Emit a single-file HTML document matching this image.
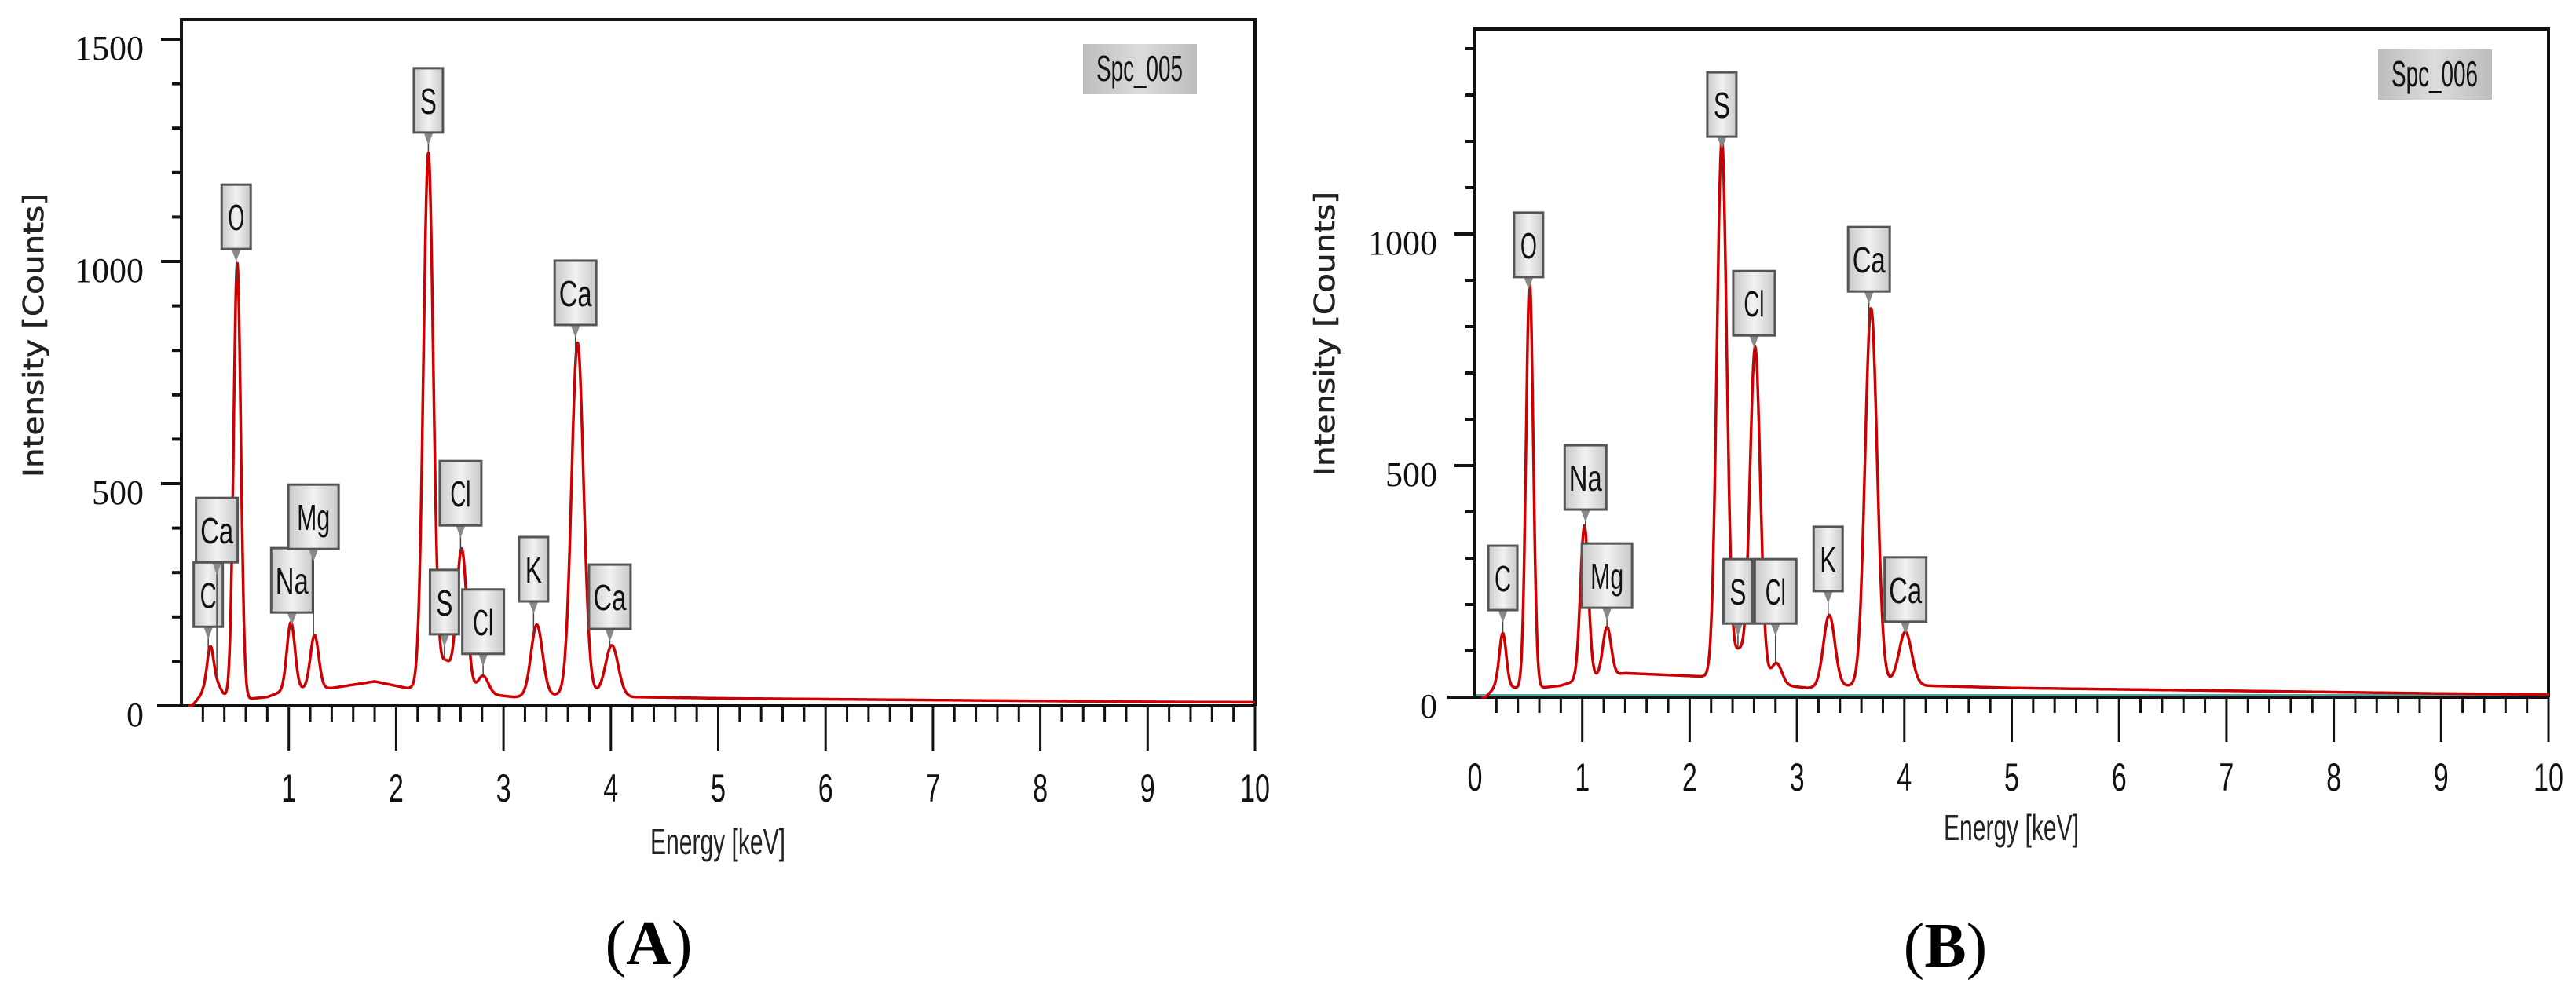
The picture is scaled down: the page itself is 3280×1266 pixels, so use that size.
<!DOCTYPE html>
<html><head><meta charset="utf-8"><style>
html,body{margin:0;padding:0;background:#fff;}
svg{display:block;}
</style></head><body>
<svg id="fig" width="3280" height="1266" viewBox="0 0 3280 1266" xmlns="http://www.w3.org/2000/svg">
<defs>
<linearGradient id="boxg" x1="0" y1="0" x2="1" y2="0">
<stop offset="0" stop-color="#c9c9c9"/><stop offset="0.5" stop-color="#f2f2f2"/><stop offset="1" stop-color="#c9c9c9"/>
</linearGradient>
<linearGradient id="spcg" x1="0" y1="0" x2="1" y2="0">
<stop offset="0" stop-color="#bdbdbd"/><stop offset="0.5" stop-color="#dcdcdc"/><stop offset="1" stop-color="#bdbdbd"/>
</linearGradient>
</defs>
</svg>
<script>
// ---- Panel A data ----
const peakEnergyA = [0.27, 0.34, 0.52, 1.02, 1.24, 2.30, 2.46, 2.61, 2.81, 3.31, 3.69, 4.01];
const peakHeightA = [105, 20, 980, 150, 120, 1205, 60, 320, 40, 160, 790, 110];
const bgEnergyA = [0, 0.1, 0.2, 0.4, 0.6, 0.8, 1.0, 1.4, 1.8, 2.1, 2.4, 2.9, 3.1, 3.5, 3.9, 4.2, 5, 6, 7, 8, 9, 10];
const bgCountsA = [0, 0, 30, 22, 15, 20, 38, 40, 55, 40, 40, 25, 20, 25, 30, 20, 17, 15, 13, 11, 9, 8];
const labelTextA = ["C", "Ca", "O", "Na", "Mg", "S", "S", "Cl", "Cl", "K", "Ca", "Ca"];
const labelEnergyA = [0.25, 0.33, 0.51, 1.03, 1.23, 2.30, 2.45, 2.60, 2.81, 3.28, 3.67, 3.99];
const labelLevelA = [178, 323, 1028, 210, 353, 1290, 161, 406, 117, 235, 857, 173];
const yTicksA = [0, 500, 1000, 1500];
const xTickLabelsA = ["1","2","3","4","5","6","7","8","9","10"];

// ---- Panel B data ----
const peakEnergyB = [0.26, 0.51, 1.02, 1.23, 2.30, 2.46, 2.61, 2.81, 3.30, 3.69, 4.01];
const peakHeightB = [115, 880, 330, 105, 1160, 55, 720, 45, 155, 810, 110];
const bgEnergyB = [0, 0.1, 0.2, 0.4, 0.6, 0.8, 1.0, 1.4, 1.8, 2.1, 2.4, 2.9, 3.1, 3.5, 3.9, 4.2, 5, 6, 7, 8, 9, 10];
const bgCountsB = [0, 0, 25, 20, 20, 25, 40, 52, 48, 45, 45, 25, 20, 25, 35, 25, 20, 17, 14, 11, 8, 6];
const labelTextB = ["C", "O", "Na", "Mg", "S", "S", "Cl", "Cl", "K", "Ca", "Ca"];
const labelEnergyB = [0.26, 0.50, 1.03, 1.23, 2.30, 2.45, 2.60, 2.80, 3.29, 3.67, 4.01];
const labelLevelB = [188, 907, 405, 193, 1210, 159, 781, 159, 229, 876, 163];
const yTicksB = [0, 500, 1000];
const xTickLabelsB = ["0","1","2","3","4","5","6","7","8","9","10"];

const NS = "http://www.w3.org/2000/svg";
const svg = document.getElementById("fig");
function mk(tag, attrs, parent) {
  const e = document.createElementNS(NS, tag);
  for (const k in attrs) e.setAttribute(k, attrs[k]);
  (parent || svg).appendChild(e);
  return e;
}
function interp(xs, ys, x) {
  if (x <= xs[0]) return ys[0];
  for (let i = 1; i < xs.length; i++) {
    if (x <= xs[i]) { const t = (x - xs[i-1]) / (xs[i] - xs[i-1]); return ys[i-1] + t * (ys[i] - ys[i-1]); }
  }
  return ys[ys.length - 1];
}
function spectrum(e, pe, ph, be, bc) {
  let v = interp(be, bc, e);
  for (let i = 0; i < pe.length; i++) {
    const s = 0.03 + 0.007 * pe[i];
    v += ph[i] * Math.exp(-0.5 * Math.pow((e - pe[i]) / s, 2));
  }
  return v;
}

function panel(cfg) {
  const g = mk("g", {});
  
  
  const X = e => cfg.x0 + (e / 10) * (cfg.x1 - cfg.x0);
  const Y = c => cfg.y0 - c * cfg.pxPerCount;

  if (cfg.teal) {
    mk("line", {x1: cfg.x0, y1: cfg.y0 - 3, x2: cfg.x1, y2: cfg.y0 - 3, stroke: "#4aa8a8", "stroke-width": 2}, g);
  }
  const fr = mk("path", {d: `M${cfg.x0} ${cfg.y0} L${cfg.x0} ${cfg.top} L${cfg.x1} ${cfg.top} L${cfg.x1} ${cfg.y0}`, fill: "none", stroke: "#111", "stroke-width": 4}, g);
  
  
  const xa = mk("line", {x1: cfg.axLeft, y1: cfg.y0, x2: cfg.x1, y2: cfg.y0, stroke: "#111", "stroke-width": 4}, g);
  
  

  for (let c = 0; c <= cfg.yMaxTick; c += 100) {
    const major = c % 500 === 0;
    const t = mk("line", {x1: cfg.x0 - (major ? 26 : 12), y1: Y(c), x2: cfg.x0, y2: Y(c), stroke: "#111", "stroke-width": 4}, g);
    
    
  }
  cfg.yTicks.forEach(c => {
    const t = mk("text", {x: cfg.x0 - 48, y: Y(c) + 26, "text-anchor": "end", "font-family": "'Liberation Serif', serif", "font-size": 44, fill: "#111"}, g);
    t.textContent = String(c);
    
    
  });
  for (let k = 1; k <= 50; k++) {
    const e = k * 0.2;
    const major = k % 5 === 0;
    const t = mk("line", {x1: X(e), y1: cfg.y0, x2: X(e), y2: cfg.y0 + (major ? 57 : 20), stroke: "#111", "stroke-width": 3}, g);
    
    
  }
  cfg.xTickLabels.forEach(s => {
    const e = parseFloat(s);
    const t = mk("text", {x: X(e), y: cfg.xLabelY + 18, "text-anchor": "middle", "font-family": "'Liberation Sans', sans-serif", "font-size": 50, fill: "#111", textLength: s.length * 19, lengthAdjust: "spacingAndGlyphs"}, g);
    t.textContent = s;
    
    
  });
  const xt = mk("text", {x: cfg.xTitleX, y: cfg.xTitleY + 16, "text-anchor": "middle", "font-family": "'Liberation Sans', sans-serif", "font-size": 46, fill: "#222", textLength: 172, lengthAdjust: "spacingAndGlyphs"}, g);
  xt.textContent = "Energy [keV]";
  
  
  const yt = mk("text", {x: 0, y: 0, transform: `translate(${cfg.yTitleX + 13},${cfg.yTitleY}) rotate(-90)`, "text-anchor": "middle", "font-family": "'DejaVu Sans', sans-serif", "font-size": 36, fill: "#222", stroke: "#222", "stroke-width": 0.6, textLength: 362, lengthAdjust: "spacingAndGlyphs"}, g);
  yt.textContent = "Intensity [Counts]";
  
  

  let d = "";
  const startE = 0.06;
  for (let i = 0; i <= 2000; i++) {
    const e = startE + (10 - startE) * i / 2000;
    const v = spectrum(e, cfg.pe, cfg.ph, cfg.be, cfg.bc);
    d += (i ? "L" : "M") + X(e).toFixed(1) + " " + Y(v).toFixed(1);
  }
  const sp = mk("path", {d: d, fill: "none", stroke: "#cc0000", "stroke-width": 3.5, "stroke-linejoin": "round"}, g);
  
  

  cfg.lt.forEach((txt, i) => {
    const e = cfg.le[i];
    const cx = X(e);
    const bottom = Y(cfg.ll[i]);
    const w = txt === "Mg" ? 64 : (txt.length === 1 ? 37 : 53);
    const h = 82;
    const lg = mk("g", {}, g);
    
    
    const peakY = Y(spectrum(e, cfg.pe, cfg.ph, cfg.be, cfg.bc));
    mk("line", {x1: cx, y1: bottom, x2: cx, y2: Math.max(bottom + 8, peakY), stroke: "#444", "stroke-width": 1.5}, lg);
    mk("path", {d: `M${cx - 6} ${bottom} L${cx + 6} ${bottom} L${cx} ${bottom + 16} Z`, fill: "#888"}, lg);
    mk("rect", {x: cx - w / 2, y: bottom - h, width: w, height: h, fill: "url(#boxg)", stroke: "#555", "stroke-width": 3}, lg);
    const t = mk("text", {x: cx, y: bottom - h / 2 + 17, "text-anchor": "middle", "font-family": "'Liberation Sans', sans-serif", "font-size": 46, fill: "#111", textLength: txt === "Cl" ? 26 : txt.length * 21, lengthAdjust: "spacingAndGlyphs"}, lg);
    t.textContent = txt;
  });

  const sb = mk("g", {}, g);
  
  
  mk("rect", {x: cfg.spc[0], y: cfg.spc[1], width: 145, height: 64, fill: "url(#spcg)"}, sb);
  const st = mk("text", {x: cfg.spc[0] + 72, y: cfg.spc[1] + 47, "text-anchor": "middle", "font-family": "'Liberation Sans', sans-serif", "font-size": 46, fill: "#111", textLength: 110, lengthAdjust: "spacingAndGlyphs"}, sb);
  st.textContent = cfg.spcName;

  const cap = mk("text", {x: cfg.capX, y: cfg.capY + 27, "text-anchor": "middle", "font-family": "'Liberation Serif', serif", "font-size": 80, fill: "#000"}, g);
  cap.innerHTML = '(<tspan font-weight="bold">' + cfg.cap + '</tspan>)';
  
  
}

panel({name: "panel-a", x0: 231, x1: 1598, top: 25, y0: 899, pxPerCount: 0.566, axLeft: 200,
  yMaxTick: 1500, yTicks: yTicksA, xTickLabels: xTickLabelsA, xLabelY: 1003,
  xTitleX: 914, xTitleY: 1072, yTitleX: 42, yTitleY: 427,
  pe: peakEnergyA, ph: peakHeightA, be: bgEnergyA, bc: bgCountsA,
  lt: labelTextA, le: labelEnergyA, ll: labelLevelA,
  spc: [1379, 56], spcName: "Spc_005", cap: "A", capX: 826, capY: 1201, teal: false});

panel({name: "panel-b", x0: 1878, x1: 3245, top: 37, y0: 888, pxPerCount: 0.59, axLeft: 1843,
  yMaxTick: 1400, yTicks: yTicksB, xTickLabels: xTickLabelsB, xLabelY: 989,
  xTitleX: 2561, xTitleY: 1054, yTitleX: 1686, yTitleY: 425,
  pe: peakEnergyB, ph: peakHeightB, be: bgEnergyB, bc: bgCountsB,
  lt: labelTextB, le: labelEnergyB, ll: labelLevelB,
  spc: [3028, 63], spcName: "Spc_006", cap: "B", capX: 2477, capY: 1204, teal: true});
</script>
</body></html>
